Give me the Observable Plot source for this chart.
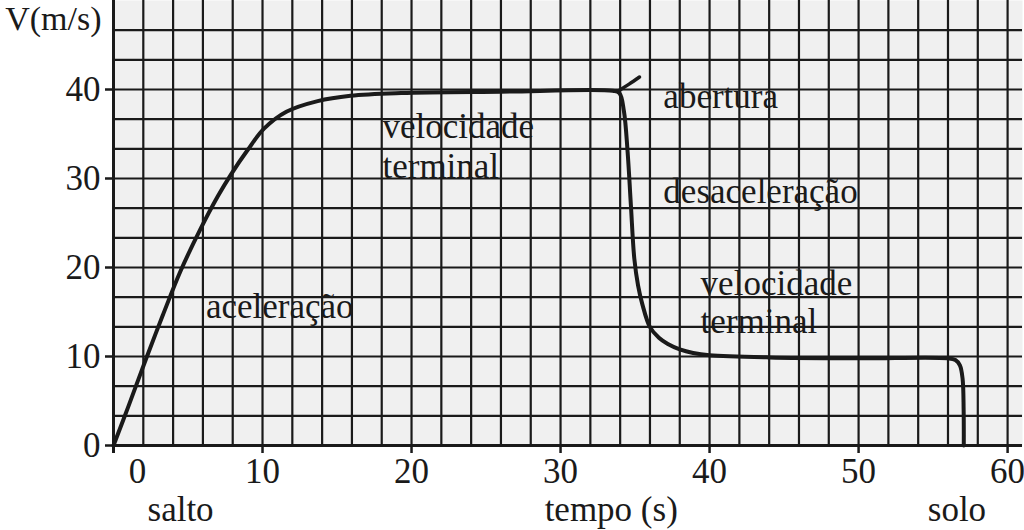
<!DOCTYPE html>
<html>
<head>
<meta charset="utf-8">
<script src="https://cdn.jsdelivr.net/npm/d3@7"></script>
<script src="https://cdn.jsdelivr.net/npm/@observablehq/plot@0.6"></script>
<style>
  html, body { margin: 0; padding: 0; background: #ffffff; }
  #chart { width: 1024px; height: 530px; }
</style>
</head>
<body>
<div id="chart"></div>
<script>
// ---- data ----
const fallTime  = [0, 1, 2.2, 3.3, 4.5, 5.8, 7, 7.9, 9, 10.1, 11.6, 13.7, 15.9, 19.3, 26, 33.5, 33.95, 34.25, 34.5, 34.72, 34.95, 35.2, 35.5, 36, 36.6, 37.2, 38, 38.9, 40, 44, 50, 56, 56.5, 56.8, 56.98, 57.05, 57.06];
const fallSpeed = [0, 4.4, 9.8, 14.6, 19.6, 24.2, 28, 30.5, 33.2, 35.6, 37.5, 38.7, 39.3, 39.6, 39.75, 39.85, 39.6, 37.6, 33, 27, 21, 18, 15.8, 13.3, 12.1, 11.4, 10.8, 10.4, 10.15, 9.9, 9.8, 9.8, 9.6, 9.0, 7.5, 4, 0];

const openTime  = [33.9, 34.6, 35.3];
const openSpeed = [39.85, 40.6, 41.4];

const xTickValues = [10, 20, 30, 40, 50, 60];
const xZeroTick   = [0];
const yTickValues = [0, 10, 20, 30, 40];

const gridTimes  = d3.range(2, 61, 2);
const gridSpeeds = d3.range(1, 15).map(k => k * 10 / 3);

const noteLabels = ["velocidade", "terminal", "abertura", "desaceleração", "velocidade", "terminal", "aceleração"];
const noteTime   = [18.05, 18.05, 36.9, 36.9, 39.4, 39.4, 6.2];
const noteSpeed  = [34.5, 30.1, 37.9, 27.2, 16.9, 12.6, 14.3];

const bottomLabels = ["salto", "tempo (s)", "solo"];
const bottomTime   = [4.5, 33.4, 56.6];

const yAxisTitle = "V(m/s)";

// ---- tables built from the arrays ----
const fall  = fallTime.map((t, i) => ({t, v: fallSpeed[i]}));
const open  = openTime.map((t, i) => ({t, v: openSpeed[i]}));
const notes = noteLabels.map((label, i) => ({label, t: noteTime[i], v: noteSpeed[i]}));
const bottoms = bottomLabels.map((label, i) => ({label, t: bottomTime[i]}));

const ink = "#1a1a1a";
const font = "'Liberation Serif', 'DejaVu Serif', serif";

const chart = Plot.plot({
  width: 1024,
  height: 530,
  marginLeft: 113,
  marginRight: 2,
  marginTop: 0,
  marginBottom: 85,
  x: {domain: [0, 61]},
  y: {domain: [0, 50]},
  style: {fontFamily: font, fontSize: "35px", color: ink, background: "#ffffff"},
  marks: [
    Plot.frame({fill: "#f0f0f0", stroke: null}),
    Plot.ruleX(gridTimes, {stroke: ink, strokeWidth: 2.2}),
    Plot.ruleY(gridSpeeds, {stroke: ink, strokeWidth: 2.2}),
    Plot.ruleX([0], {stroke: ink, strokeWidth: 3, insetBottom: -8}),
    Plot.ruleY([0], {stroke: ink, strokeWidth: 3}),
    Plot.axisY(yTickValues, {tickSize: 8, tickPadding: 5, strokeWidth: 2.5, label: null, fontSize: 35}),
    Plot.axisX(xTickValues, {tickSize: 8, tickPadding: 5, strokeWidth: 2.5, label: null, fontSize: 35}),
    Plot.axisX(xZeroTick, {tickSize: 0, tickPadding: 13, dx: 24, label: null, fontSize: 35}),
    Plot.line(fall, {x: "t", y: "v", curve: "catmull-rom", stroke: ink, strokeWidth: 4, strokeLinejoin: "round"}),
    Plot.line(open, {x: "t", y: "v", curve: "catmull-rom", stroke: ink, strokeWidth: 3.5}),
    Plot.text(notes, {x: "t", y: "v", text: "label", textAnchor: "start", lineAnchor: "bottom", fontSize: 35, fill: ink}),
    Plot.text(bottoms, {x: "t", text: "label", frameAnchor: "bottom", dy: 75, lineAnchor: "bottom", fontSize: 35, fill: ink}),
    Plot.text([yAxisTitle], {text: d => d, frameAnchor: "top-left", dx: -12, dy: 29, textAnchor: "end", lineAnchor: "bottom", fontSize: 34, fill: ink})
  ]
});

document.getElementById("chart").appendChild(chart);
</script>
</body>
</html>
